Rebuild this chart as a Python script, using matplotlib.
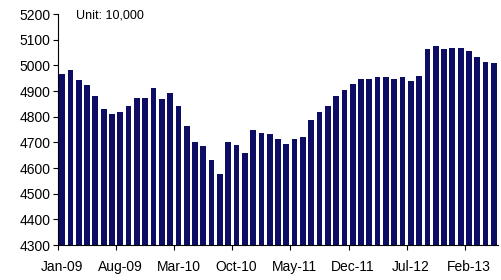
import matplotlib
matplotlib.use("Agg")
import matplotlib.pyplot as plt
import numpy as np

months = ["Jan-09","Feb-09","Mar-09","Apr-09","May-09","Jun-09","Jul-09","Aug-09","Sep-09","Oct-09","Nov-09","Dec-09",
          "Jan-10","Feb-10","Mar-10","Apr-10","May-10","Jun-10","Jul-10","Aug-10","Sep-10","Oct-10","Nov-10","Dec-10",
          "Jan-11","Feb-11","Mar-11","Apr-11","May-11","Jun-11","Jul-11","Aug-11","Sep-11","Oct-11","Nov-11","Dec-11",
          "Jan-12","Feb-12","Mar-12","Apr-12","May-12","Jun-12","Jul-12","Aug-12","Sep-12","Oct-12","Nov-12","Dec-12",
          "Jan-13","Feb-13","Mar-13","Apr-13","May-13"]
values = [4967, 4982, 4941, 4924, 4882, 4830, 4812, 4819, 4842, 4873, 4873, 4912,
          4867, 4891, 4842, 4764, 4702, 4684, 4632, 4577, 4702, 4690, 4659, 4749,
          4737, 4733, 4714, 4694, 4714, 4721, 4788, 4819, 4842, 4881, 4904, 4928,
          4947, 4947, 4955, 4955, 4947, 4955, 4939, 4959, 5064, 5075, 5064, 5068,
          5068, 5056, 5033, 5013, 5009]
y_ticks = [4300, 4400, 4500, 4600, 4700, 4800, 4900, 5000, 5100, 5200]
unit_label = "Unit: 10,000"

plt.rcParams['font.family'] = ['Liberation Sans', 'DejaVu Sans']

fig = plt.figure(figsize=(5.02, 2.80), dpi=100)
ax = fig.add_axes([58/502, 35/280, 440/502, 231/280])

x = np.arange(len(values))
ax.bar(x, values, width=0.69, color='#0d0d63', bottom=0)
ax.set_ylim(4300, 5200)
ax.set_xlim(-0.5, len(values) - 0.5)

ax.set_yticks(y_ticks)
ax.set_yticklabels([str(v) for v in y_ticks], fontsize=10)
ax.tick_params(axis='y', direction='out', length=3.6, width=0.8, pad=2, colors='black')

label_idx = list(range(0, len(values), 7))
ax.set_xticks(label_idx)
ax.set_xticklabels([months[i] for i in label_idx], fontsize=10)
ax.tick_params(axis='x', which='major', length=0, pad=11)
ax.set_xticks([i - 0.5 for i in label_idx], minor=True)
ax.tick_params(axis='x', which='minor', direction='out', length=3.6, width=0.8)

for s in ['top', 'right']:
    ax.spines[s].set_visible(False)
for s in ['left', 'bottom']:
    ax.spines[s].set_linewidth(0.8)
    ax.spines[s].set_color('black')

fig.text(76/502, 1 - 16/280, unit_label, fontsize=9, va='center', ha='left')

fig.savefig("out.png", dpi=100)
